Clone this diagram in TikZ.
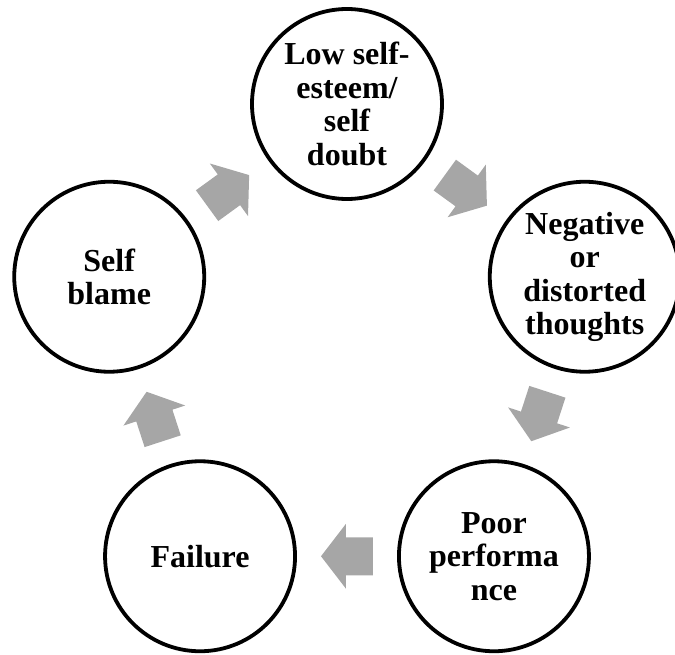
\documentclass[tikz,border=0pt]{standalone}
\usepackage{fontspec}
\setmainfont{Liberation Serif}
\usetikzlibrary{calc}
\definecolor{arrowgray}{HTML}{A6A6A6}

\begin{document}
\begin{tikzpicture}[
  stage/.style={draw,circle,line width=3.8pt,minimum size=190pt,inner sep=0pt,
                align=center,font=\fontsize{32}{33.5}\selectfont\bfseries},
  blockarrow/.style={fill=arrowgray}
]
  \useasboundingbox (-347pt,-300pt) rectangle (328pt,354pt);

  %% ===== circles of the cycle =====
  \node[stage] (doubt)    at (90:250pt)   {Low self-\\esteem/\\self\\doubt};
  \node[stage] (thoughts) at (18:250pt)   {Negative\\or\\distorted\\thoughts};
  \node[stage] (perf)     at (-54:250pt)  {Poor\\performa\\nce};
  \node[stage] (fail)     at (-126:250pt) {Failure};
  \node[stage] (blame)    at (162:250pt)  {Self\\blame};

  %% ===== block arrows between the circles =====
  \foreach \a/\b/\ang in {doubt/thoughts/-36, thoughts/perf/-108, perf/fail/180,
                          fail/blame/108, blame/doubt/36} {
    \fill[blockarrow,shift={($(\a)!0.5!(\b)$)},rotate=\ang]
      (-26pt,-19pt) -- (1pt,-19pt) -- (1pt,-32.5pt) -- (26pt,0pt)
      -- (1pt,32.5pt) -- (1pt,19pt) -- (-26pt,19pt) -- cycle;
  }

\end{tikzpicture}
\end{document}
